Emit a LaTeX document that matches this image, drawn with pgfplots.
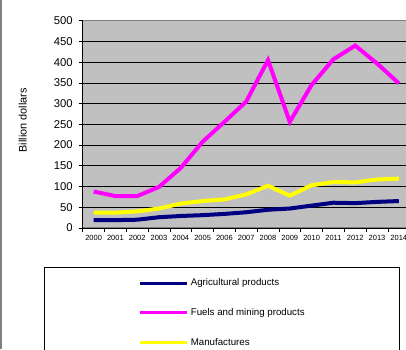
\documentclass[border=0pt]{standalone}
\usepackage{pgfplots}
\pgfplotsset{compat=1.18}
\usepackage{fontspec}
\setmainfont{Liberation Sans}
\definecolor{plotbg}{RGB}{192,192,192}
\definecolor{navyline}{RGB}{0,0,128}
\definecolor{magline}{RGB}{255,0,255}
\definecolor{yelline}{RGB}{255,255,0}
\begin{document}
\begin{tikzpicture}
\path[use as bounding box, clip] (0pt,0pt) rectangle (406pt,349pt);
\fill[white] (0pt,0pt) rectangle (406pt,349pt);
\draw[gray, line width=1.6pt] (1pt,0pt) -- (1pt,349pt);
\begin{axis}[
  at={(82.7pt,121pt)}, anchor=south west,
  scale only axis, width=327pt, height=207.3pt,
  xmin=1999.5, xmax=2014.5, ymin=0, ymax=500,
  axis x line*=bottom, axis y line*=left,
  axis line style={black, line width=0.8pt},
  axis background/.style={fill=plotbg, draw=gray, line width=1.2pt},
  xtick={1999.5,2000.5,...,2014.5},
  xticklabels={2000,2001,2002,2003,2004,2005,2006,2007,2008,2009,2010,2011,2012,2013,2014,},
  x tick label as interval,
  ytick={0,50,...,450},
  extra y ticks={500},
  extra y tick style={grid=none},
  ymajorgrids,
  major grid style={black, line width=0.7pt},
  tick align=outside,
  major tick length=4pt,
  tick style={black, line width=0.7pt},
  /pgf/number format/assume math mode=true,
  /pgf/number format/1000 sep={},
  x tick label style={font=\fontsize{7.5}{9}\selectfont},
  y tick label style={font=\fontsize{11.3}{13}\selectfont, xshift=-2.5pt},
  ylabel={Billion dollars},
  ylabel style={at={(axis description cs:-0.1835,0.52)}, anchor=center, font=\fontsize{10.9}{13}\selectfont},
  legend cell align=left,
  legend image code/.code={\draw[#1, line width=3pt] (0pt,0pt) -- (47pt,0pt);},
  legend style={at={(axis description cs:-0.1193,-0.1857)}, anchor=north west,
    draw=black, line width=0.8pt, fill=white,
    minimum width=355.3pt, inner ysep=11.7pt, inner xsep=0pt,
    row sep=20.7pt, column sep=2pt,
    nodes={minimum width=0pt, minimum height=0pt, inner sep=0pt, text height=7pt, text depth=2pt},
    font=\fontsize{9.7}{11}\selectfont},
]
\addplot[navyline, line width=4pt] coordinates {
(2000,19) (2001,19) (2002,20) (2003,26) (2004,29) (2005,31) (2006,34) (2007,38)
(2008,44) (2009,47) (2010,54) (2011,61) (2012,60) (2013,63) (2014,65)};
\addlegendentry{Agricultural products}
\addplot[magline, line width=4pt] coordinates {
(2000,88) (2001,77) (2002,77) (2003,99) (2004,145) (2005,208) (2006,256) (2007,305)
(2008,405) (2009,256) (2010,345) (2011,407) (2012,440) (2013,397) (2014,349)};
\addlegendentry{Fuels and mining products}
\addplot[yelline, line width=4pt] coordinates {
(2000,37) (2001,37) (2002,40) (2003,47) (2004,59) (2005,65) (2006,69) (2007,81)
(2008,102) (2009,78) (2010,103) (2011,111) (2012,110) (2013,117) (2014,119)};
\addlegendentry{Manufactures}
\end{axis}
\end{tikzpicture}
\end{document}
